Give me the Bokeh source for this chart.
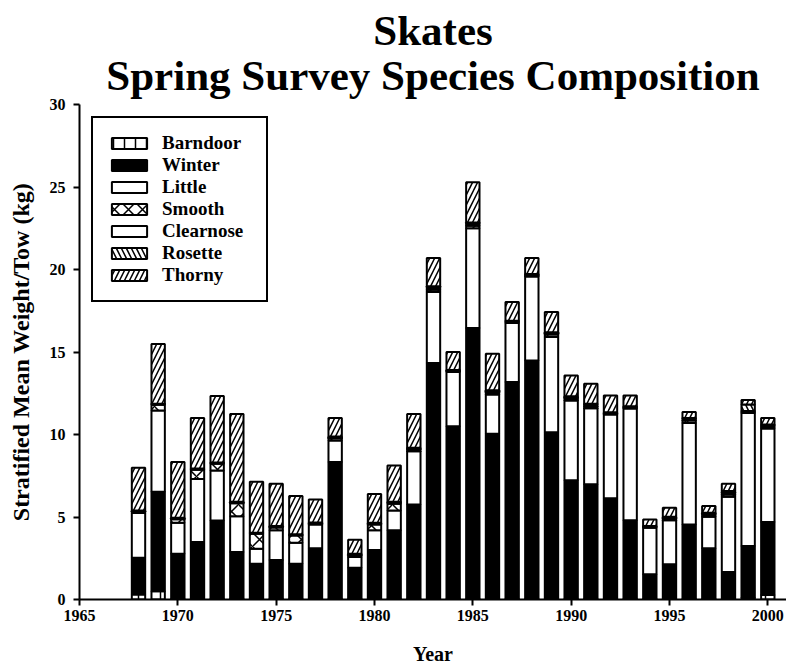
from bokeh.plotting import figure
from bokeh.models import Title, Legend, LegendItem, FixedTicker, ColumnDataSource
from bokeh.embed import file_html
from bokeh.resources import INLINE

# Stratified mean weight per tow (kg) by species, spring survey
years = list(range(1968, 2001))
barndoor = [0.30, 0.50, 0.05, 0.05, 0.05, 0.05, 0.05, 0.05, 0.05, 0.05,
            0.05, 0.05, 0.05, 0.05, 0.05, 0.05, 0.05, 0.05, 0.05, 0.05,
            0.05, 0.05, 0.05, 0.05, 0.05, 0.05, 0.05, 0.05, 0.05, 0.05,
            0.05, 0.10, 0.27]
winter = [2.23, 6.03, 2.72, 3.43, 4.74, 2.83, 2.12, 2.34, 2.12, 3.05,
          8.29, 1.88, 2.95, 4.14, 5.71, 14.28, 10.45, 16.40, 9.99, 13.13,
          14.43, 10.09, 7.18, 6.94, 6.08, 4.76, 1.48, 2.08, 4.50, 3.05,
          1.61, 3.14, 4.42]
little = [2.72, 4.92, 1.88, 3.83, 3.03, 2.16, 0.91, 1.80, 1.27, 1.45,
          1.29, 0.64, 1.19, 1.21, 3.23, 4.30, 3.29, 6.05, 2.38, 3.58,
          5.10, 5.77, 4.83, 4.60, 5.08, 6.76, 2.82, 2.68, 6.15, 1.91,
          4.56, 8.07, 5.67]
smooth = [0.10, 0.35, 0.22, 0.55, 0.40, 0.80, 0.90, 0.18, 0.44, 0.05,
          0.15, 0.10, 0.36, 0.40, 0.10, 0.15, 0.05, 0.15, 0.12, 0.06,
          0.06, 0.15, 0.10, 0.10, 0.06, 0.06, 0.04, 0.10, 0.15, 0.12,
          0.15, 0.05, 0.10]
clearnose = [0.03, 0.05, 0.05, 0.05, 0.06, 0.05, 0.05, 0.05, 0.05, 0.05,
             0.06, 0.06, 0.06, 0.08, 0.06, 0.12, 0.05, 0.12, 0.08, 0.05,
             0.05, 0.08, 0.10, 0.12, 0.05, 0.05, 0.04, 0.06, 0.10, 0.08,
             0.12, 0.06, 0.08]
rosette = [0.02, 0.02, 0.03, 0.03, 0.03, 0.03, 0.02, 0.03, 0.02, 0.02,
           0.04, 0.04, 0.04, 0.04, 0.04, 0.08, 0.02, 0.08, 0.06, 0.03,
           0.03, 0.05, 0.06, 0.06, 0.03, 0.03, 0.02, 0.04, 0.05, 0.05,
           0.08, 0.40, 0.06]
thorny = [2.58, 3.62, 3.39, 3.06, 4.03, 5.33, 3.08, 2.56, 2.33, 1.39,
          1.12, 0.85, 1.75, 2.20, 2.06, 1.71, 1.09, 2.44, 2.22, 1.13,
          0.97, 1.23, 1.25, 1.21, 1.01, 0.65, 0.40, 0.55, 0.37, 0.40,
          0.44, 0.27, 0.40]

species = ["Barndoor", "Winter", "Little", "Smooth", "Clearnose", "Rosette", "Thorny"]
x_ticks = [1965, 1970, 1975, 1980, 1985, 1990, 1995, 2000]
y_ticks = [0, 5, 10, 15, 20, 25, 30]

source = ColumnDataSource(dict(
    year=years, Barndoor=barndoor, Winter=winter, Little=little, Smooth=smooth,
    Clearnose=clearnose, Rosette=rosette, Thorny=thorny,
))

FONT = "Liberation Serif"

p = figure(width=786, height=671, output_backend="svg", toolbar_location=None,
           x_range=(1965, 2000.95), y_range=(0, 30),
           min_border_left=79, min_border_right=0, min_border_bottom=72,
           min_border_top=103)

# two-line heading in a single title block
p.title = Title(text="Skates\nSpring Survey Species Composition",
                align="center", text_align="center", text_font=FONT,
                text_font_style="bold", text_font_size="43px",
                text_color="black", standoff=10, text_line_height=0.96)

fills = ["white", "black", "white", "white", "white", "white", "white"]
hatches = ["vertical_line", " ", " ", "diagonal_cross", " ",
           "left_diagonal_line", "right_diagonal_line"]
scales = [11, 10, 10, 14, 10, 10, 10]

renderers = p.vbar_stack(species, x="year", width=0.68, source=source,
                         fill_color=fills, hatch_pattern=hatches,
                         hatch_scale=scales, hatch_color="black",
                         hatch_weight=1.5, line_color="black", line_width=2)

legend = Legend(items=[LegendItem(label=name, renderers=[r])
                       for name, r in zip(species, renderers)],
                location="top_left", margin=12, padding=14, spacing=0,
                glyph_width=44, glyph_height=14, label_height=20,
                label_width=90, label_standoff=11, label_text_font=FONT,
                label_text_font_style="bold", label_text_font_size="19px",
                label_text_color="black", border_line_color="black",
                border_line_alpha=1.0, border_line_width=2,
                background_fill_alpha=1.0)
p.add_layout(legend)

p.outline_line_color = None
p.xgrid.grid_line_color = None
p.ygrid.grid_line_color = None

for ax in (p.xaxis[0], p.yaxis[0]):
    ax.axis_line_width = 2
    ax.axis_line_color = "black"
    ax.major_tick_line_width = 2
    ax.major_tick_line_color = "black"
    ax.major_tick_out = 6
    ax.major_tick_in = 0
    ax.minor_tick_line_color = None
    ax.major_label_text_font = FONT
    ax.major_label_text_font_style = "bold"
    ax.major_label_text_font_size = "16px"
    ax.major_label_text_color = "black"
    ax.axis_label_text_font = FONT
    ax.axis_label_text_font_style = "bold"
    ax.axis_label_text_color = "black"

p.xaxis[0].ticker = FixedTicker(ticks=x_ticks)
p.yaxis[0].ticker = FixedTicker(ticks=y_ticks)
p.xaxis[0].axis_label = "Year"
p.xaxis[0].axis_label_text_font_size = "20px"
p.xaxis[0].major_label_standoff = 4
p.xaxis[0].axis_label_standoff = 19
p.yaxis[0].axis_label = "Stratified Mean Weight/Tow (kg)"
p.yaxis[0].axis_label_text_font_size = "24px"
p.yaxis[0].major_label_standoff = 8
p.yaxis[0].axis_label_standoff = 13

open("out.html", "w").write(file_html(p, INLINE))
